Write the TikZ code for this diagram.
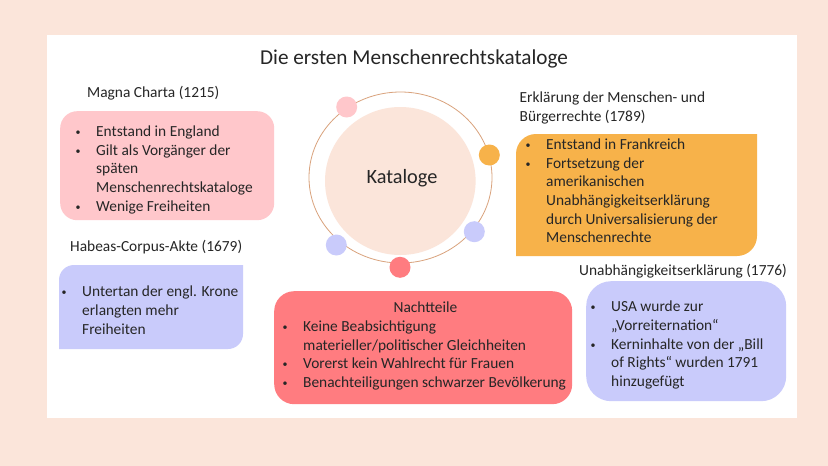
\documentclass[tikz,border=0pt]{standalone}
\usepackage{fontspec}
\setmainfont{Carlito}
\usetikzlibrary{shapes.geometric}
\definecolor{pagebg}{HTML}{FBE5DA}
\definecolor{ringcol}{HTML}{D9A27C}
\definecolor{rosecol}{HTML}{FFC7CB}
\definecolor{ambercol}{HTML}{F7B24A}
\definecolor{lilaccol}{HTML}{C9CBFB}
\definecolor{redcol}{HTML}{FF7C80}
\definecolor{inkcol}{HTML}{262626}
\newcommand{\bul}{\makebox[20.5pt][l]{\raisebox{1pt}{\fontsize{10}{10}\selectfont\textbullet}}}
\newcommand{\ind}{\hspace*{20.5pt}}
\begin{document}
\begin{tikzpicture}
[x=1pt,y=-1pt,%
  every node/.style={inner sep=0pt,text=inkcol,font=\fontsize{15.4}{18.7}\selectfont},%
  list/.style={anchor=north west,align=left},%
  head/.style={anchor=west,align=left},%
  panel/.style={shape=rectangle,anchor=north west,draw=none},%
  dot/.style={shape=circle,minimum size=21pt}]
\useasboundingbox (0,0) rectangle (828,466);
\fill[pagebg] (0,0) rectangle (828,466);
\fill[white] (47,35) rectangle (797,418);
\node[font=\fontsize{21.2}{24}\selectfont] (title) at (414,59) {Die ersten Menschenrechtskataloge};
% ring
\draw[ringcol,line width=0.8pt] (400.5,177.5) ellipse [x radius=91.5,y radius=85.5];
\node[shape=ellipse,fill=pagebg,minimum width=150.6pt,minimum height=148pt] (hub) at (400.3,181) {};
\node[font=\fontsize{20.3}{24}\selectfont] (kataloge) at (402,178) {Kataloge};
\node[dot,fill=rosecol] (dotrose) at (346.7,107) {};
\node[dot,fill=ambercol] (dotamber) at (489.3,155) {};
\node[dot,fill=lilaccol] (dotright) at (474.3,231.7) {};
\node[dot,fill=lilaccol] (dotleft) at (336.3,245) {};
\node[dot,fill=redcol] (dotred) at (400,267.3) {};
% panels
\node[panel,fill=rosecol,rounded corners=17pt,minimum width=214pt,minimum height=109pt] (magnabox) at (60,111) {};
\node[panel,fill=redcol,rounded corners=20pt,minimum width=298pt,minimum height=113pt] (nachbox) at (274,291) {};
\node[panel,fill=lilaccol,rounded corners=25pt,minimum width=200pt,minimum height=120pt] (usabox) at (586,281) {};
\fill[ambercol] (516,256) -- (516,154) [rounded corners=20pt] -- (516,134) [sharp corners] -- (757,134) -- (757,236)
  [rounded corners=20pt] -- (757,256) [sharp corners] -- cycle;
\fill[lilaccol] (59,349) -- (59,280) [rounded corners=15pt] -- (59,265) [sharp corners] -- (243,265) -- (243,334)
  [rounded corners=15pt] -- (243,349) [sharp corners] -- cycle;
% texts
\node[head] (magna) at (87,93) {Magna Charta (1215)};
\node[list] (magnatext) at (75.5,125.7) {\bul Entstand in England\\\bul Gilt als Vorgänger der\\\ind späten\\\ind Menschenrechtskataloge\\\bul Wenige Freiheiten};
\node[head] (habeas) at (70,247) {Habeas-Corpus-Akte (1679)};
\node[list] (habeastext) at (61.5,286) {\bul Untertan der engl. Krone\\\ind erlangten mehr\\\ind Freiheiten};
\node[head] (erkl) at (519.5,108) {Erklärung der Menschen- und\\Bürgerrechte (1789)};
\node[list] (erkltext) at (525.5,138.5) {\bul Entstand in Frankreich\\\bul Fortsetzung der\\\ind amerikanischen\\\ind Unabhängigkeitserklärung\\\ind durch Universalisierung der\\\ind Menschenrechte};
\node[head] (unabh) at (579,271) {Unabhängigkeitserklärung (1776)};
\node[list] (unabhtext) at (590.5,301) {\bul USA wurde zur\\\ind „Vorreiternation“\\\bul Kerninhalte von der „Bill\\\ind of Rights“ wurden 1791\\\ind hinzugefügt};
\node (nachhead) at (425.5,307.5) {Nachtteile};
\node[list] (nachtext) at (282.5,320.5) {\bul Keine Beabsichtigung\\\ind materieller/politischer Gleichheiten\\\bul Vorerst kein Wahlrecht für Frauen\\\bul Benachteiligungen schwarzer Bevölkerung};
\end{tikzpicture}
\end{document}
